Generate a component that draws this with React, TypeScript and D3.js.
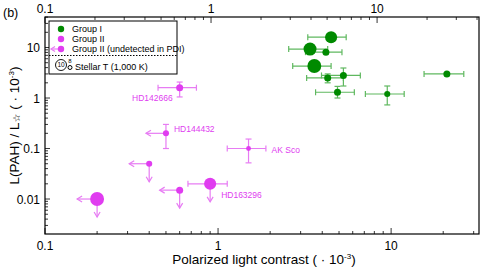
import React from 'react';
import * as d3 from 'd3';

// Group I (green)
const g1X = [4.5, 3.4, 4.2, 3.6, 4.3, 5.3, 4.9, 9.5, 21];
const g1Y = [16, 9.3, 8.1, 4.3, 2.5, 2.8, 1.3, 1.2, 3.0];
const g1XErr: Array<[number, number]> = [
  [3.3, 5.5], [2.56, 4.3], [3.2, 5.2], [2.7, 4.5], [3.25, 5.3],
  [3.96, 6.64], [3.66, 6.13], [7.1, 11.9], [15.5, 26.3],
];
const g1YErr: Array<[number, number] | null> = [
  null, null, null, null, [2.0, 3.0], [1.73, 3.93], [1.0, 1.7], [0.73, 1.73], null,
];
const g1Temp = [10.7, 11, 9, 11.3, 9, 9, 9, 8.7, 9];

// Group II (magenta)
const g2Names = ['HD142666', 'HD144432', 'AK Sco', '', '', 'HD163296', ''];
const g2X = [0.6, 0.5, 1.5, 0.4, 0.6, 0.9, 0.2];
const g2Y = [1.6, 0.2, 0.1, 0.05, 0.015, 0.02, 0.01];
const g2XErr: Array<[number, number] | null> = [[0.45, 0.75], null, [1.13, 1.89], null, null, [0.67, 1.13], null];
const g2YErr: Array<[number, number] | null> = [[1.05, 2.07], [0.1, 0.3], [0.052, 0.154], null, null, null, null];
const g2XLimit = [false, true, false, true, true, false, true];
const g2YLimit = [false, false, false, true, true, true, true];
const g2Temp = [9, 8.7, 8.3, 8.7, 9, 10.7, 11.3];

const xMajor = [0.1, 1, 10];
const yMajor = [0.01, 0.1, 1, 10];
const yLabels = ['0.01', '0.1', '1', '10'];
const xLabels = ['0.1', '1', '10'];

const W = 491;
const H = 268;
const margin = { top: 17, right: 12, bottom: 34, left: 45 };
const FONT = 'Liberation Sans, Arial, Helvetica, sans-serif';

const GREEN = '#008a00';
const GREEN_ERR = '#5fb85f';
const MAG = '#e03cf0';
const MAG_ERR = '#e77cf3';

function minorTicks(lo: number, hi: number) {
  const out: number[] = [];
  for (let e = -4; e <= 3; e++) {
    for (let k = 1; k <= 9; k++) {
      const v = k * Math.pow(10, e);
      if (v >= lo && v <= hi) out.push(v);
    }
  }
  return out;
}

export default function App() {
  const x = d3.scaleLog().domain([0.1, 32.2]).range([margin.left, W - margin.right]);
  const xTop = d3.scaleLog().domain([0.1, 41.1]).range([margin.left, W - margin.right]);
  const y = d3.scaleLog().domain([0.00203, 40.2]).range([H - margin.bottom, margin.top]);
  const r = d3.scaleLinear().domain([8, 10]).range([2, 5]);

  const x0 = margin.left, x1 = W - margin.right;
  const y0 = H - margin.bottom, y1 = margin.top;
  const isMajor = (v: number) => Math.abs(Math.log10(v) - Math.round(Math.log10(v))) < 1e-6;

  const arrowLeft = (cx: number, cy: number, color: string, key: string) => (
    <g key={key} stroke={color} strokeWidth={1.2} fill="none">
      <line x1={cx} y1={cy} x2={cx - 20} y2={cy} />
      <polyline points={`${cx - 15},${cy - 3} ${cx - 20},${cy} ${cx - 15},${cy + 3}`} />
    </g>
  );
  const arrowDown = (cx: number, cy: number, color: string, key: string) => (
    <g key={key} stroke={color} strokeWidth={1.2} fill="none">
      <line x1={cx} y1={cy} x2={cx} y2={cy + 18} />
      <polyline points={`${cx - 3},${cy + 13} ${cx},${cy + 18} ${cx + 3},${cy + 13}`} />
    </g>
  );
  const xBar = (lo: number, hi: number, cy: number, color: string, key: string) => (
    <g key={key} stroke={color} strokeWidth={1.2}>
      <line x1={x(lo)} x2={x(hi)} y1={cy} y2={cy} />
      <line x1={x(lo)} x2={x(lo)} y1={cy - 3} y2={cy + 3} />
      <line x1={x(hi)} x2={x(hi)} y1={cy - 3} y2={cy + 3} />
    </g>
  );
  const yBar = (lo: number, hi: number, cx: number, color: string, key: string) => (
    <g key={key} stroke={color} strokeWidth={1.2}>
      <line x1={cx} x2={cx} y1={y(lo)} y2={y(hi)} />
      <line x1={cx - 3} x2={cx + 3} y1={y(lo)} y2={y(lo)} />
      <line x1={cx - 3} x2={cx + 3} y1={y(hi)} y2={y(hi)} />
    </g>
  );

  // label placement for named Group II stars
  const labelPos: Record<string, { dx: number; dy: number; anchor: string }> = {
    HD142666: { dx: -7, dy: 13, anchor: 'end' },
    HD144432: { dx: 8, dy: -1, anchor: 'start' },
    'AK Sco': { dx: 23, dy: 4, anchor: 'start' },
    HD163296: { dx: 11, dy: 14, anchor: 'start' },
  };

  return (
    <svg width={W} height={H} style={{ position: 'absolute', left: 0, top: 0, background: '#fff' }} fontFamily={FONT}>
      <text x={3} y={17} fontSize={12.5}>(b)</text>

      {/* axes frame */}
      <rect x={x0} y={y1} width={x1 - x0} height={y0 - y1} fill="none" stroke="#000" strokeWidth={1.2} />

      {/* bottom ticks */}
      {minorTicks(0.1, 32.2).map((v, i) => (
        <line key={'bt' + i} x1={x(v)} x2={x(v)} y1={y0} y2={y0 - (isMajor(v) ? 6 : 3)} stroke="#000" strokeWidth={0.8} />
      ))}
      {xMajor.map((v, i) => (
        <text key={'bl' + i} x={x(v)} y={250} fontSize={12} textAnchor="middle">{xLabels[i]}</text>
      ))}
      {/* top ticks */}
      {minorTicks(0.1, 41.1).map((v, i) => (
        <line key={'tt' + i} x1={xTop(v)} x2={xTop(v)} y1={y1} y2={y1 + (isMajor(v) ? 6 : 3)} stroke="#000" strokeWidth={0.8} />
      ))}
      {xMajor.map((v, i) => (
        <text key={'tl' + i} x={xTop(v)} y={13} fontSize={12} textAnchor="middle">{xLabels[i]}</text>
      ))}
      {/* left ticks */}
      {minorTicks(0.00203, 40.2).map((v, i) => (
        <line key={'lt' + i} x1={x0} x2={x0 + (isMajor(v) ? 5 : 3)} y1={y(v)} y2={y(v)} stroke="#000" strokeWidth={0.8} />
      ))}
      {yMajor.map((v, i) => (
        <text key={'ll' + i} x={40} y={y(v) + 4.5} fontSize={12} textAnchor="end">{yLabels[i]}</text>
      ))}

      {/* axis titles */}
      <text x={264} y={264} fontSize={13.5} textAnchor="middle">
        Polarized light contrast ( · 10<tspan fontSize={8} dy={-5}>-3</tspan><tspan dy={5}>)</tspan>
      </text>
      <text transform={`translate(19,${(y0 + y1) / 2}) rotate(-90)`} fontSize={13.5} textAnchor="middle">
        L(PAH) / L<tspan fontSize={10} dy={1} fontFamily="DejaVu Sans">☆</tspan><tspan dy={-1}> ( · 10</tspan>
        <tspan fontSize={8} dy={-5}>-3</tspan><tspan dy={5}>)</tspan>
      </text>

      {/* Group I */}
      {g1X.map((v, i) => xBar(g1XErr[i][0], g1XErr[i][1], y(g1Y[i]), GREEN_ERR, 'g1x' + i))}
      {g1X.map((v, i) => (g1YErr[i] ? yBar(g1YErr[i]![0], g1YErr[i]![1], x(v), GREEN_ERR, 'g1y' + i) : null))}
      {g1X.map((v, i) => (
        <circle key={'g1c' + i} cx={x(v)} cy={y(g1Y[i])} r={r(g1Temp[i])} fill={GREEN} />
      ))}

      {/* Group II */}
      {g2X.map((v, i) => {
        const cx = x(v), cy = y(g2Y[i]);
        const xe = g2XErr[i], ye = g2YErr[i];
        const lp = labelPos[g2Names[i]];
        return (
          <g key={'g2' + i}>
            {xe && xBar(xe[0], xe[1], cy, MAG_ERR, 'xe')}
            {ye && yBar(ye[0], ye[1], cx, MAG_ERR, 'ye')}
            {g2XLimit[i] && arrowLeft(cx, cy, MAG_ERR, 'al')}
            {g2YLimit[i] && arrowDown(cx, cy, MAG_ERR, 'ad')}
            <circle cx={cx} cy={cy} r={r(g2Temp[i])} fill={MAG} />
            {lp && (
              <text x={cx + lp.dx} y={cy + lp.dy} fontSize={8.5} fill={MAG} textAnchor={lp.anchor as any}>{g2Names[i]}</text>
            )}
          </g>
        );
      })}

      {/* legend */}
      <g>
        <rect x={49} y={21} width={128} height={53} fill="#fff" stroke="#000" strokeWidth={1} />
        <circle cx={61} cy={29} r={3.2} fill={GREEN} />
        <text x={72} y={32} fontSize={9}>Group I</text>
        <circle cx={61} cy={39} r={3.2} fill={MAG} />
        <text x={72} y={42} fontSize={9}>Group II</text>
        <g stroke={MAG_ERR} strokeWidth={1.2} fill="none">
          <line x1={61} y1={49} x2={51} y2={49} />
          <polyline points="55,46.5 51,49 55,51.5" />
        </g>
        <circle cx={61} cy={49} r={3.2} fill={MAG} />
        <text x={72} y={52} fontSize={9}>Group II (undetected in PDI)</text>
        <line x1={49} x2={177} y1={55.5} y2={55.5} stroke="#000" strokeWidth={1} strokeDasharray="1.5,1.5" />
        <circle cx={61} cy={65} r={5.5} fill="#fff" stroke="#000" strokeWidth={0.9} />
        <text x={61} y={67.3} fontSize={6.5} textAnchor="middle">10</text>
        <text x={70} y={63} fontSize={6} textAnchor="middle">8</text>
        <circle cx={70} cy={67.5} r={2} fill="#fff" stroke="#000" strokeWidth={1} />
        <text x={75} y={70} fontSize={9}>Stellar T (1,000 K)</text>
      </g>
    </svg>
  );
}
